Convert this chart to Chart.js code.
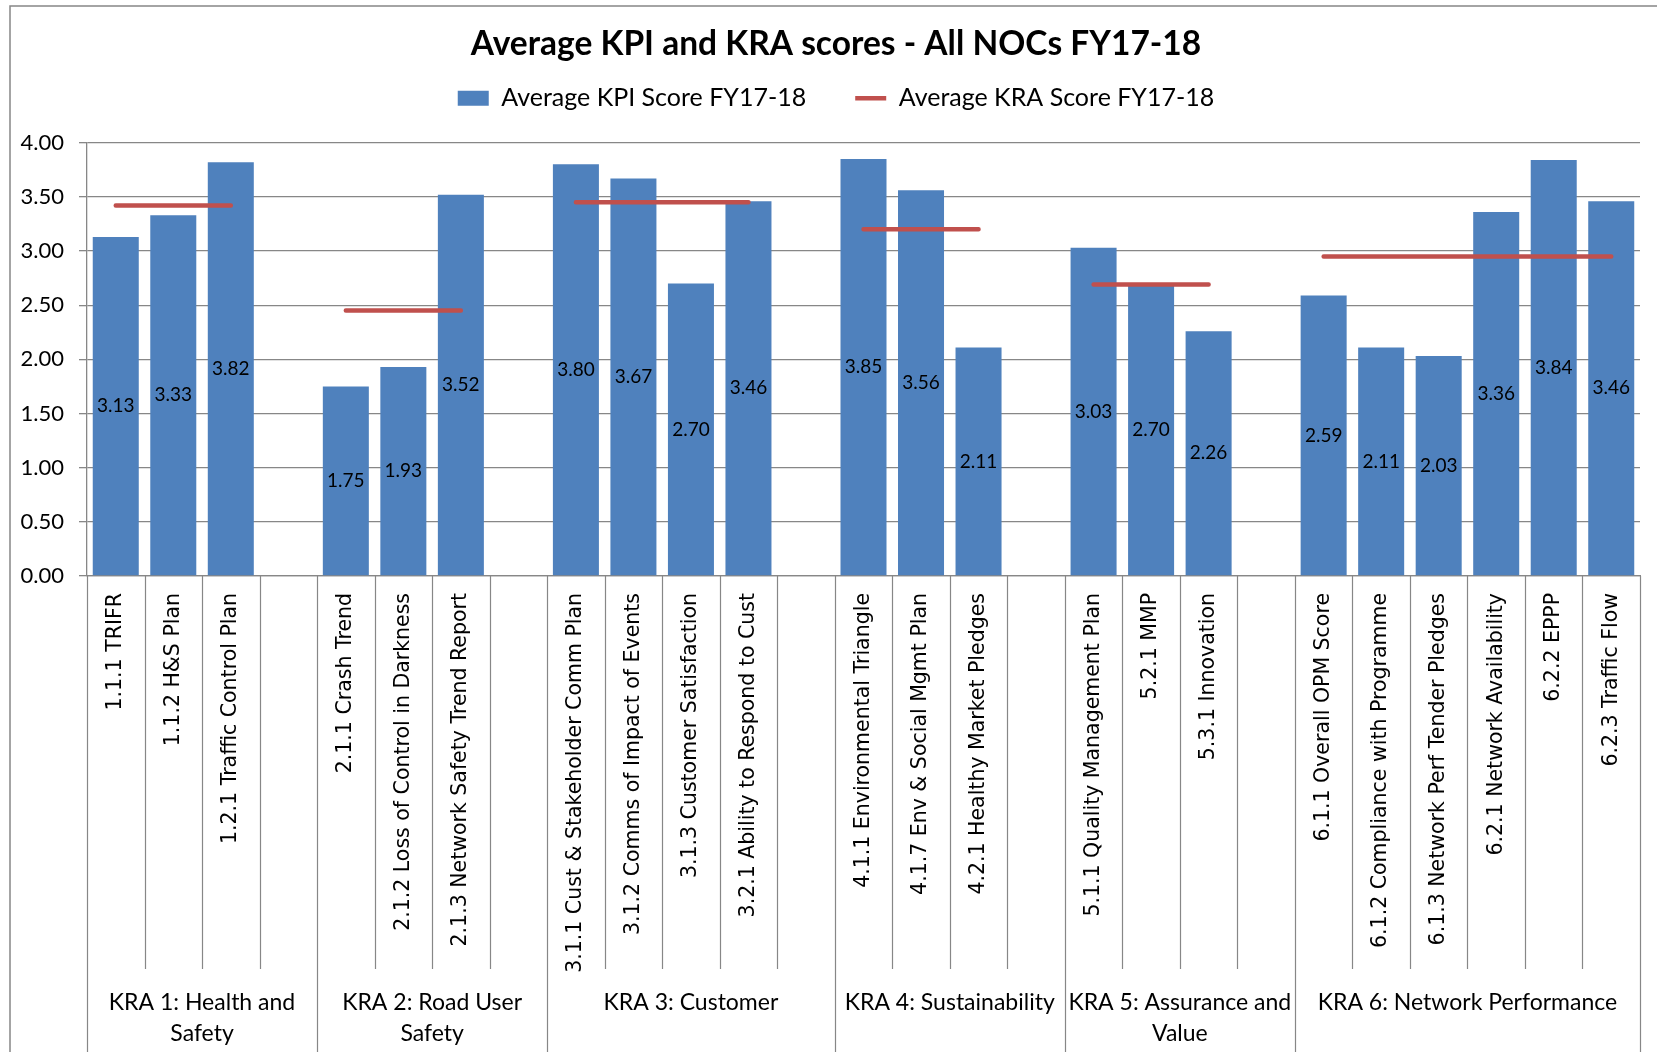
<!DOCTYPE html>
<html lang="en">
<head>
<meta charset="UTF-8">
<title>Average KPI and KRA scores - All NOCs FY17-18</title>
<script src="https://cdn.jsdelivr.net/npm/chart.js"></script>
<style>
    body { margin: 0; background: #fff; overflow: hidden; }
    #wrap { position: relative; width: 1657px; height: 1052px; }
</style>
</head>
<body>
<div id="wrap"><canvas id="chart"></canvas></div>
<script>
// one entry per category slot, '' = spacer slot between KRA groups
const kpiLabels = [
    '1.1.1 TRIFR', '1.1.2 H&S Plan', '1.2.1 Traffic Control Plan', '',
    '2.1.1 Crash Trend', '2.1.2 Loss of Control in Darkness', '2.1.3 Network Safety Trend Report', '',
    '3.1.1 Cust & Stakeholder Comm Plan', '3.1.2 Comms of Impact of Events', '3.1.3 Customer Satisfaction', '3.2.1 Ability to Respond to Cust', '',
    '4.1.1 Environmental Triangle', '4.1.7 Env & Social Mgmt Plan', '4.2.1 Healthy Market Pledges', '',
    '5.1.1 Quality Management Plan', '5.2.1 MMP', '5.3.1 Innovation', '',
    '6.1.1 Overall OPM Score', '6.1.2 Compliance with Programme', '6.1.3 Network Perf Tender Pledges', '6.2.1 Network Availability', '6.2.2 EPPP', '6.2.3 Traffic Flow'
];
const kpiScores = [
    3.13, 3.33, 3.82, null,
    1.75, 1.93, 3.52, null,
    3.80, 3.67, 2.70, 3.46, null,
    3.85, 3.56, 2.11, null,
    3.03, 2.70, 2.26, null,
    2.59, 2.11, 2.03, 3.36, 3.84, 3.46
];
const kraScores = [
    3.42, 3.42, 3.42, null,
    2.45, 2.45, 2.45, null,
    3.45, 3.45, 3.45, 3.45, null,
    3.20, 3.20, 3.20, null,
    2.69, 2.69, 2.69, null,
    2.95, 2.95, 2.95, 2.95, 2.95, 2.95
];
const kraNames = [
    ['KRA 1: Health and', 'Safety'],
    ['KRA 2: Road User', 'Safety'],
    ['KRA 3: Customer'],
    ['KRA 4: Sustainability'],
    ['KRA 5: Assurance and', 'Value'],
    ['KRA 6: Network Performance']
];
const kraSizes = [4, 4, 5, 4, 4, 6];
const yTicks = [0, 0.5, 1, 1.5, 2, 2.5, 3, 3.5, 4];

const GRID = '#878787';

// white background + chart frame like the Excel chart area border
const frame = {
    id: 'frame',
    beforeDraw(chart) {
        const ctx = chart.ctx;
        ctx.save();
        ctx.fillStyle = '#fff';
        ctx.fillRect(0, 0, chart.width, chart.height);
        ctx.strokeStyle = GRID;
        ctx.lineWidth = 1.5;
        ctx.strokeRect(10, 6, chart.width, chart.height);
        ctx.restore();
    }
};

// extra room between the legend and the plot
const legendGap = {
    id: 'legendGap',
    beforeLayout(chart) {
        const lg = chart.legend;
        if (lg && !lg._gapDone) {
            const fit = lg.fit;
            lg.fit = function () {
                fit.call(this);
                this.height += 22;
            };
            lg._gapDone = true;
        }
    }
};

// value labels centred inside each bar
const barValues = {
    id: 'barValues',
    afterDatasetsDraw(chart) {
        const meta = chart.getDatasetMeta(1);
        const ctx = chart.ctx;
        ctx.save();
        ctx.font = '19px Lato';
        ctx.fillStyle = '#000';
        ctx.textAlign = 'center';
        ctx.textBaseline = 'middle';
        meta.data.forEach((bar, i) => {
            const v = kpiScores[i];
            if (v == null) return;
            ctx.fillText(v.toFixed(2), bar.x, (bar.y + bar.base) / 2);
        });
        ctx.restore();
    }
};

// second level of the category axis: separators + KRA group names
const kraAxis = {
    id: 'kraAxis',
    afterDraw(chart) {
        const x = chart.scales.x;
        const ctx = chart.ctx;
        const ends = [];
        let n = 0;
        kraSizes.forEach(s => { n += s; ends.push(n); });

        ctx.save();
        ctx.strokeStyle = GRID;
        ctx.lineWidth = 1.2;
        ctx.beginPath();
        for (let i = 0; i <= kpiLabels.length; i++) {
            const px = Math.round(x.getPixelForValue(i - 0.5)) + 0.5;
            const long = i === 0 || ends.includes(i);
            ctx.moveTo(px, x.top);
            ctx.lineTo(px, long ? chart.height : x.top + 393);
        }
        ctx.stroke();

        ctx.fillStyle = '#000';
        ctx.font = '23px Lato';
        ctx.textAlign = 'center';
        ctx.textBaseline = 'middle';
        let start = 0;
        kraNames.forEach((lines, g) => {
            const mid = x.getPixelForValue(start + kraSizes[g] / 2 - 0.5);
            lines.forEach((t, j) => ctx.fillText(t, mid, x.top + 427 + j * 31));
            start += kraSizes[g];
        });
        ctx.restore();
    }
};

new Chart(document.getElementById('chart'), {
    data: {
        labels: kpiLabels,
        datasets: [
            {
                type: 'line',
                label: 'Average KRA Score FY17-18',
                data: kraScores,
                borderColor: '#C0504D',
                backgroundColor: '#C0504D',
                borderWidth: 4.5,
                borderCapStyle: 'round',
                pointRadius: 0,
                pointStyle: 'line',
                spanGaps: false,
                fill: false,
                order: 0
            },
            {
                type: 'bar',
                label: 'Average KPI Score FY17-18',
                data: kpiScores,
                backgroundColor: '#4F81BD',
                borderWidth: 0,
                pointStyle: 'rect',
                barPercentage: 0.8,
                categoryPercentage: 1.0,
                order: 1
            }
        ]
    },
    options: {
        responsive: true,
        maintainAspectRatio: false,
        animation: false,
        // negative right padding + empty right axis shift the title/legend centre a bit right
        layout: { padding: { left: 10, right: -5, top: 0, bottom: 0 } },
        plugins: {
            tooltip: { enabled: false },
            title: {
                display: true,
                text: 'Average KPI and KRA scores - All NOCs FY17-18',
                color: '#000',
                font: { family: 'Lato', size: 33.5, weight: 'bold' },
                padding: { top: 24, bottom: -27.5 }
            },
            legend: {
                labels: {
                    color: '#000',
                    font: { family: 'Lato', size: 25 },
                    usePointStyle: true,
                    pointStyleWidth: 31,
                    boxHeight: 15,
                    padding: 49,
                    sort: (a, b) => b.datasetIndex - a.datasetIndex
                }
            }
        },
        scales: {
            x: {
                grid: { display: false },
                border: { display: true, color: GRID, width: 1.3 },
                ticks: {
                    autoSkip: false,
                    maxRotation: 90,
                    minRotation: 90,
                    padding: 9,
                    color: '#000',
                    font: { family: 'DejaVu Sans', size: 20.5 }
                },
                afterFit(scale) { scale.height = 476; }
            },
            y: {
                min: 0,
                max: 4,
                afterBuildTicks(scale) { scale.ticks = yTicks.map(v => ({ value: v })); },
                grid: { color: GRID, lineWidth: 1.3, tickLength: 8 },
                border: { color: GRID, width: 1.3 },
                ticks: {
                    padding: 15,
                    color: '#000',
                    font: { family: 'Lato', size: 22 },
                    callback: v => v.toFixed(2)
                },
                afterFit(scale) { scale.width = 77; }
            },
            yPad: {
                position: 'right',
                grid: { display: false },
                border: { display: false },
                ticks: { display: false },
                afterFit(scale) { scale.width = 22; }
            }
        }
    },
    plugins: [frame, legendGap, barValues, kraAxis]
});
</script>
</body>
</html>
